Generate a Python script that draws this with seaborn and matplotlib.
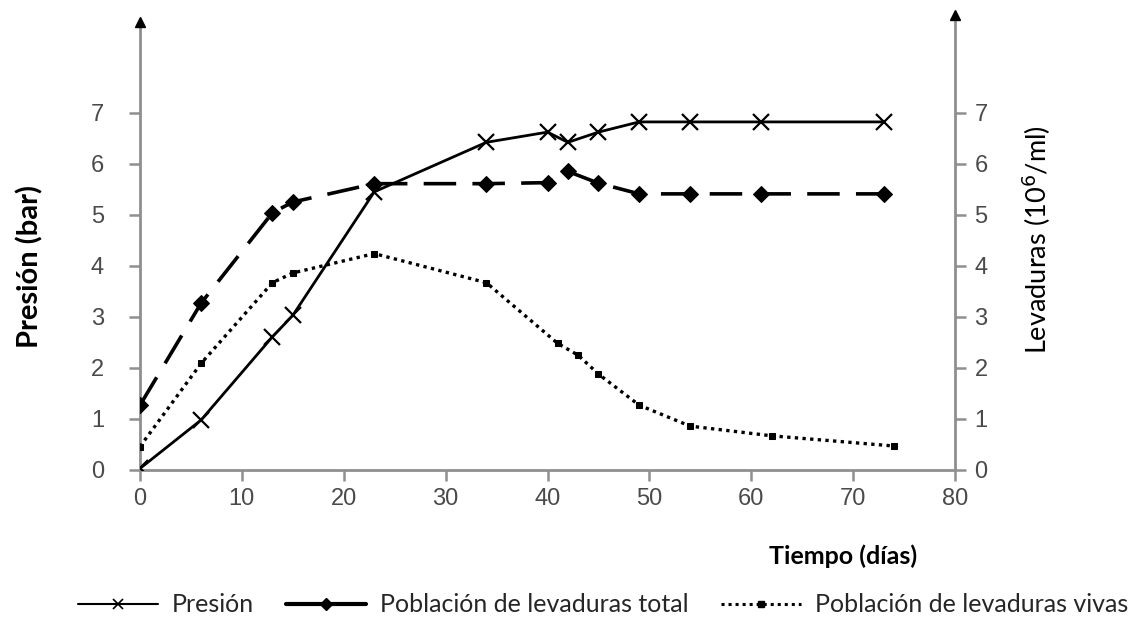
import matplotlib
matplotlib.use("Agg")
import matplotlib.pyplot as plt
import seaborn as sns
import pandas as pd
from matplotlib.lines import Line2D

# ---- data ----
dias_presion = [0, 6, 13, 15, 23, 34, 40, 42, 45, 49, 54, 61, 73]
presion = [0.03, 0.98, 2.61, 3.03, 5.45, 6.42, 6.62, 6.42, 6.62, 6.82, 6.82, 6.82, 6.82]

dias_total = [0, 6, 13, 15, 23, 34, 40, 42, 45, 49, 54, 61, 73]
levaduras_total = [1.27, 3.27, 5.04, 5.25, 5.61, 5.61, 5.63, 5.85, 5.62, 5.41, 5.41, 5.41, 5.41]

dias_vivas = [0, 6, 13, 15, 23, 34, 41, 43, 45, 49, 54, 62, 74]
levaduras_vivas = [0.46, 2.09, 3.67, 3.86, 4.24, 3.67, 2.48, 2.25, 1.88, 1.27, 0.86, 0.67, 0.47]

x_ticks = [0, 10, 20, 30, 40, 50, 60, 70, 80]
y_ticks = [0, 1, 2, 3, 4, 5, 6, 7]

lbl_presion = "Presión"
lbl_total = "Población de levaduras total"
lbl_vivas = "Población de levaduras vivas"

# ---- style ----
sns.set_style("white")
plt.rcParams['font.family'] = ['Liberation Sans', 'DejaVu Sans']

AX_GREY = "#8f8f8f"
TXT_GREY = "#4a4a4a"

fig = plt.figure(figsize=(11.34, 6.21), dpi=100)
ax = fig.add_axes([140/1134, 1-470/621, (955-140)/1134, (470-22)/621])
ax2 = ax.twinx()

YTOP = 448/51.04
for a in (ax, ax2):
    a.set_xlim(0, 80)
    a.set_ylim(0, YTOP)
    a.set_yticks(y_ticks)
    for s in a.spines.values():
        s.set_visible(False)

ax.set_xticks(x_ticks)
ax.spines['left'].set_visible(True)
ax.spines['bottom'].set_visible(True)
ax2.spines['right'].set_visible(True)
for a, sp in ((ax, 'left'), (ax, 'bottom'), (ax2, 'right')):
    a.spines[sp].set_color(AX_GREY)
    a.spines[sp].set_linewidth(2.0)

ax.tick_params(axis='y', direction='out', length=8, width=1.8, color=AX_GREY,
               labelsize=17, labelcolor=TXT_GREY, pad=18, left=True)
ax.tick_params(axis='x', direction='out', length=8, width=1.8, color=AX_GREY,
               labelsize=17, labelcolor=TXT_GREY, pad=5, bottom=True)
ax2.tick_params(axis='y', direction='out', length=8, width=1.8, color=AX_GREY,
                labelsize=17, labelcolor=TXT_GREY, pad=6, right=True)

# ---- series ----
df_p = pd.DataFrame({"dia": dias_presion, "valor": presion})
df_t = pd.DataFrame({"dia": dias_total, "valor": levaduras_total})
df_v = pd.DataFrame({"dia": dias_vivas, "valor": levaduras_vivas})

sns.lineplot(data=df_p, x="dia", y="valor", ax=ax, color="black", linewidth=2.0,
             marker="x", markersize=11, markeredgewidth=1.6, markeredgecolor="black",
             legend=False, zorder=3)
sns.lineplot(data=df_t, x="dia", y="valor", ax=ax2, color="black", linewidth=2.6,
             marker="D", markersize=8.5, markeredgecolor="black", markerfacecolor="black",
             legend=False, zorder=3)
ax2.lines[-1].set_dashes((9, 4.5))
sns.lineplot(data=df_v, x="dia", y="valor", ax=ax2, color="black", linewidth=2.4,
             marker="s", markersize=4.5, markeredgecolor="black", markerfacecolor="black",
             legend=False, zorder=3)
ax2.lines[-1].set_dashes((1, 1.3))

ax.set_xlabel("")
ax.set_ylabel("")
ax2.set_ylabel("")

# arrows at top of y axes
ax2.plot([0], [1], marker="^", color="black", markersize=7, transform=ax.transAxes,
         clip_on=False, zorder=6)
ax2.plot([1], [1.015], marker="^", color="black", markersize=7, transform=ax.transAxes,
         clip_on=False, zorder=6)

# ---- axis titles ----
fig.text(30/1134, 1-266/621, "Presión (bar)", rotation=90, ha="center", va="center",
         fontsize=21, fontweight="bold", family=["Lato", "DejaVu Sans"], color="black")
fig.text(1037/1134, 1-240/621, "Levaduras (10$^{6}$/ml)", rotation=90, ha="center", va="center",
         fontsize=19.5, family=["Lato", "DejaVu Sans"], color="black")
fig.text(843/1134, 1-556/621, "Tiempo (días)", ha="center", va="center",
         fontsize=18, fontweight="bold", family=["Lato", "DejaVu Sans"], color="black")

# ---- legend ----
h1 = Line2D([], [], color="black", linewidth=1.5, marker="x", markersize=7, markeredgewidth=1.2)
h2 = Line2D([], [], color="black", linewidth=3.0, marker="D", markersize=6)
h3 = Line2D([], [], color="black", linewidth=2.2, marker="s", markersize=4, dashes=(1, 1.3))
leg = fig.legend([h1, h2, h3], [lbl_presion, lbl_total, lbl_vivas],
                 loc="center left", bbox_to_anchor=(78/1134, 1-605/621), ncol=3, frameon=False,
                 handlelength=3.2, handletextpad=0.55, columnspacing=1.3,
                 borderaxespad=0, borderpad=0,
                 prop={"family": ["Lato", "DejaVu Sans"], "size": 18})

fig.savefig("out.png", dpi=100)
